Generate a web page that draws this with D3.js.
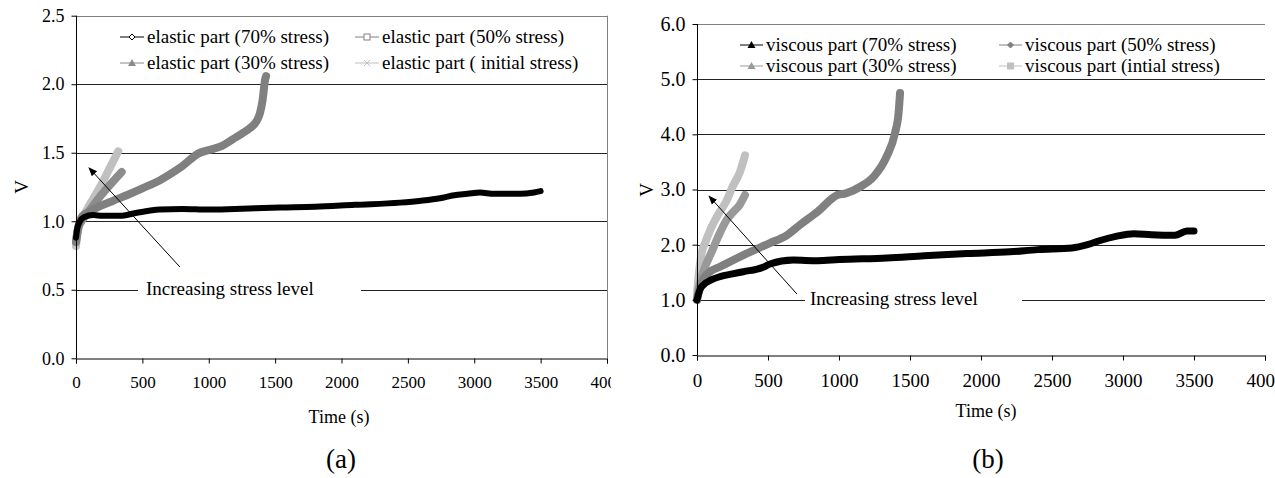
<!DOCTYPE html>
<html>
<head>
<meta charset="utf-8">
<script src="https://cdn.jsdelivr.net/npm/d3@7"></script>
<style>
  body { margin: 0; background: #fff; }
  svg { display: block; }
  text { font-family: "Liberation Serif", "Times New Roman", serif; fill: #000; }
</style>
</head>
<body>
<div class="graph"></div>
<script>

// ---- data ----
const xTicks = [0, 500, 1000, 1500, 2000, 2500, 3000, 3500, 4000];
const yTicksA = [0, 0.5, 1.0, 1.5, 2.0, 2.5];
const yTicksB = [0, 1, 2, 3, 4, 5, 6];

// (a) elastic part
const tA70 = [0, 10, 30, 60, 130, 200, 330, 450, 630, 800, 1000, 1200, 1537, 1800, 2100, 2440, 2600, 2742, 2850, 2950, 3043, 3150, 3345, 3450, 3500];
const vA70 = [0.88, 0.95, 1.0, 1.03, 1.045, 1.04, 1.04, 1.06, 1.085, 1.09, 1.085, 1.09, 1.10, 1.105, 1.12, 1.136, 1.15, 1.168, 1.19, 1.2, 1.21, 1.2, 1.2, 1.21, 1.22];
const tA50 = [0, 20, 50, 100, 181, 280, 382, 500, 633, 783, 934, 1000, 1100, 1183, 1250, 1311, 1360, 1386, 1405, 1424, 1432];
const vA50 = [0.85, 0.97, 1.04, 1.07, 1.11, 1.15, 1.19, 1.24, 1.30, 1.39, 1.5, 1.52, 1.55, 1.6, 1.64, 1.68, 1.73, 1.79, 1.88, 2.03, 2.06];
const tA30 = [0, 15, 40, 80, 181, 260, 344];
const vA30 = [0.85, 0.95, 1.0, 1.05, 1.18, 1.27, 1.36];
const tAini = [0, 15, 40, 80, 181, 250, 318];
const vAini = [0.82, 0.93, 1.0, 1.08, 1.25, 1.38, 1.51];

// (b) viscous part
const tB70 = [0, 20, 45, 100, 162, 250, 326, 465, 514, 678, 850, 1000, 1338, 1600, 1900, 2204, 2400, 2641, 2750, 2845, 2950, 3077, 3200, 3366, 3450, 3500];
const vB70 = [1.0, 1.18, 1.27, 1.36, 1.42, 1.47, 1.51, 1.59, 1.65, 1.72, 1.71, 1.73, 1.76, 1.80, 1.84, 1.87, 1.91, 1.94, 2.0, 2.08, 2.15, 2.2, 2.18, 2.17, 2.25, 2.25];
const tB50 = [0, 20, 50, 92, 162, 326, 514, 632, 725, 850, 989, 1048, 1150, 1250, 1336, 1394, 1420, 1430];
const vB50 = [1.0, 1.22, 1.4, 1.51, 1.6, 1.81, 2.03, 2.17, 2.36, 2.6, 2.9, 2.93, 3.05, 3.25, 3.6, 4.02, 4.4, 4.75];
const tB30 = [0, 20, 50, 100, 150, 209, 250, 300, 338];
const vB30 = [1.0, 1.3, 1.55, 1.85, 2.15, 2.45, 2.58, 2.72, 2.9];
const tBini = [0, 10, 33, 60, 92, 150, 209, 250, 300, 338];
const vBini = [1.1, 1.4, 1.85, 2.05, 2.26, 2.55, 2.8, 3.05, 3.3, 3.62];

const seriesA = [
  { name: "elastic part (70% stress)", t: tA70, v: vA70, color: "#000", width: 6, marker: "diamondOpen" },
  { name: "elastic part (50% stress)", t: tA50, v: vA50, color: "#808080", width: 8, marker: "squareOpen" },
  { name: "elastic part (30% stress)", t: tA30, v: vA30, color: "#8c8c8c", width: 8, marker: "triangle" },
  { name: "elastic part ( initial stress)", t: tAini, v: vAini, color: "#c0c0c0", width: 8, marker: "cross" }
];
const seriesB = [
  { name: "viscous part (70% stress)", t: tB70, v: vB70, color: "#000", width: 7, marker: "triangle" },
  { name: "viscous part (50% stress)", t: tB50, v: vB50, color: "#808080", width: 8, marker: "diamond" },
  { name: "viscous part (30% stress)", t: tB30, v: vB30, color: "#999999", width: 8, marker: "triangle" },
  { name: "viscous part (intial stress)", t: tBini, v: vBini, color: "#c0c0c0", width: 8, marker: "square" }
];

// ---- layout ----
const panels = [
  {
    series: seriesA, yTicks: yTicksA, yMax: 2.5,
    left: 76, right: 607, top: 15.7, bottom: 358.3, clipRight: 611,
    rightBorder: true, tickFont: 18, xPad: 12,
    legend: { cols: [120, 355], rows: [37, 63], symW: 24 },
    vLabel: [21, 187], timeLabel: [339, 417], caption: ["(a)", 341, 468],
    note: { box: [467, 2147], level: 0.5, textT: 527, arrowFrom: [783, 0.666], arrowTo: [98, 1.39] }
  },
  {
    series: seriesB, yTicks: yTicksB, yMax: 6,
    left: 697, right: 1265, top: 24, bottom: 355, clipRight: 1275,
    rightBorder: false, tickFont: 20, xPad: 13,
    legend: { cols: [740, 999], rows: [45, 66], symW: 23 },
    vLabel: [646, 190], timeLabel: [986, 411], caption: ["(b)", 988, 468],
    note: { box: [761, 2289], level: 1.0, textT: 796, arrowFrom: [704, 1.105], arrowTo: [85, 2.88] }
  }
];

const svg = d3.select(".graph").append("svg")
  .attr("width", 1275).attr("height", 478);

svg.append("defs").append("marker")
  .attr("id", "head").attr("viewBox", "0 0 10 10")
  .attr("refX", 9).attr("refY", 5)
  .attr("markerWidth", 9).attr("markerHeight", 9)
  .attr("markerUnits", "userSpaceOnUse")
  .attr("orient", "auto")
  .append("path").attr("d", "M0,1 L10,5 L0,9 Z").attr("fill", "#000");

function drawMarker(g, type, x, y, color) {
  const s = 3;
  if (type === "diamondOpen" || type === "diamond") {
    g.append("path").attr("d", `M${x},${y - s} L${x + s},${y} L${x},${y + s} L${x - s},${y} Z`)
      .attr("fill", type === "diamond" ? color : "#fff").attr("stroke", color).attr("stroke-width", 1);
  } else if (type === "squareOpen" || type === "square") {
    g.append("rect").attr("x", x - s).attr("y", y - s).attr("width", 2 * s).attr("height", 2 * s)
      .attr("fill", type === "square" ? color : "#fff").attr("stroke", color).attr("stroke-width", 1);
  } else if (type === "triangle") {
    g.append("path").attr("d", `M${x},${y - 4} L${x + 4},${y + 3} L${x - 4},${y + 3} Z`).attr("fill", color);
  } else if (type === "cross") {
    g.append("path").attr("d", `M${x - 3},${y - 3} L${x + 3},${y + 3} M${x - 3},${y + 3} L${x + 3},${y - 3}`)
      .attr("stroke", color).attr("stroke-width", 1);
  }
}

panels.forEach((p, i) => {
  const x = d3.scaleLinear().domain([0, 4000]).range([p.left, p.right]);
  const y = d3.scaleLinear().domain([0, p.yMax]).range([p.bottom, p.top]);

  svg.append("clipPath").attr("id", "clip" + i)
    .append("rect").attr("x", 0).attr("y", 0).attr("width", p.clipRight).attr("height", 478);
  const g = svg.append("g").attr("clip-path", `url(#clip${i})`);

  // gridlines (top one is the gray plot border)
  g.append("g").selectAll("line")
    .data(p.yTicks.filter(d => d > 0))
    .join("line")
    .attr("x1", p.left).attr("x2", p.right)
    .attr("y1", d => Math.round(y(d)) + 0.5).attr("y2", d => Math.round(y(d)) + 0.5)
    .attr("stroke", d => d === p.yMax ? "#808080" : "#222")
    .attr("stroke-width", 1);
  if (p.rightBorder) {
    g.append("line")
      .attr("x1", Math.round(p.right) + 0.5).attr("x2", Math.round(p.right) + 0.5)
      .attr("y1", y(p.yMax)).attr("y2", p.bottom)
      .attr("stroke", "#808080");
  }

  // annotation box breaking the gridline
  const ny = y(p.note.level);
  g.append("rect")
    .attr("x", x(p.note.box[0])).attr("width", x(p.note.box[1]) - x(p.note.box[0]))
    .attr("y", ny - 13).attr("height", 24).attr("fill", "#fff");

  // series
  const line = d3.line().curve(d3.curveMonotoneX);
  p.series.slice().reverse().forEach(s => {
    g.append("path")
      .attr("d", line(s.t.map((t, k) => [x(t), y(s.v[k])])))
      .attr("fill", "none")
      .attr("stroke", s.color)
      .attr("stroke-width", s.width)
      .attr("stroke-linejoin", "round")
      .attr("stroke-linecap", "round");
  });

  // axes
  const xAxis = g.append("g").attr("transform", `translate(0,${Math.round(p.bottom) + 0.5})`)
    .call(d3.axisBottom(x).tickValues(xTicks).tickSize(5).tickPadding(p.xPad).tickFormat(d3.format("d")));
  const yAxis = g.append("g").attr("transform", `translate(${Math.round(p.left) + 0.5},0)`)
    .call(d3.axisLeft(y).tickValues(p.yTicks).tickSize(5).tickPadding(7).tickFormat(d3.format(".1f")));
  [xAxis, yAxis].forEach(a => {
    a.select(".domain").attr("stroke", "#000");
    a.selectAll(".tick line").attr("stroke", "#000");
    a.selectAll("text").attr("font-family", "Liberation Serif, serif").attr("font-size", p.tickFont);
  });
  xAxis.selectAll("text").attr("font-size", p.tickFont - 1);
  yAxis.select(".domain").attr("d", `M0,${y(p.yMax)}V${p.bottom}`);

  // annotation text + arrow
  g.append("text")
    .attr("x", x(p.note.textT)).attr("y", ny + 5)
    .attr("font-size", 19).text("Increasing stress level");
  g.append("line")
    .attr("x1", x(p.note.arrowFrom[0])).attr("y1", y(p.note.arrowFrom[1]))
    .attr("x2", x(p.note.arrowTo[0])).attr("y2", y(p.note.arrowTo[1]))
    .attr("stroke", "#000").attr("stroke-width", 1)
    .attr("marker-end", "url(#head)");

  // legend
  const lg = svg.append("g");
  p.series.forEach((s, k) => {
    const cx = p.legend.cols[k % 2];
    const cy = p.legend.rows[Math.floor(k / 2)];
    lg.append("line").attr("x1", cx).attr("x2", cx + p.legend.symW)
      .attr("y1", cy).attr("y2", cy).attr("stroke", s.color).attr("stroke-width", 1);
    drawMarker(lg, s.marker, cx + p.legend.symW / 2, cy, s.color);
    lg.append("text").attr("x", cx + p.legend.symW + 3).attr("y", cy + 6)
      .attr("font-size", 19).text(s.name);
  });

  // axis titles and caption
  svg.append("text")
    .attr("transform", `translate(${p.vLabel[0]},${p.vLabel[1]}) rotate(-90)`)
    .attr("text-anchor", "middle").attr("dy", "0.35em")
    .attr("font-size", 19).text("V");
  svg.append("text").attr("x", p.timeLabel[0]).attr("y", p.timeLabel[1])
    .attr("text-anchor", "middle").attr("dy", "0.35em")
    .attr("font-size", 18).text("Time (s)");
  svg.append("text").attr("x", p.caption[1]).attr("y", p.caption[2])
    .attr("text-anchor", "middle")
    .attr("font-size", 27).text(p.caption[0]);
});
</script>
</body>
</html>
